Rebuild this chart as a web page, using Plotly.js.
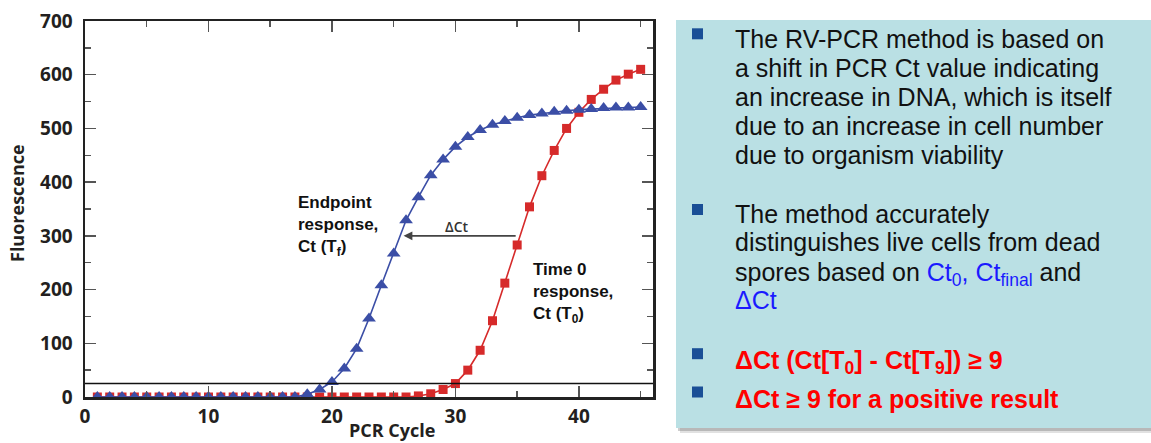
<!DOCTYPE html>
<html>
<head>
<meta charset="utf-8">
<script src="https://cdn.plot.ly/plotly-3.0.1.min.js"></script>
<style>html,body{margin:0;padding:0;background:#fff;}#chart{width:1151px;height:443px;}</style>
</head>
<body>
<div id="chart"></div>
<script>
// ---- data ----
const cycles = [1,2,3,4,5,6,7,8,9,10,11,12,13,14,15,16,17,18,19,20,21,22,23,24,25,26,27,28,29,30,31,32,33,34,35,36,37,38,39,40,41,42,43,44,45];
const endpointFluor = [0,0,0,0,0,0,0,0,0,0,0,0,0,0,0,0,0,5,14,28,53,90,146,208,267,329,372,413,442,466,484,497,507,514,520,525,528,531,533,535,536,538,539,539,540];
const time0Fluor = [0,0,0,0,0,0,0,0,0,0,0,0,0,0,0,0,0,0,0,0,0,0,0,0,0,0,2,6,14,25,50,87,142,212,283,354,412,459,500,530,554,573,590,601,610];
const threshold = 25;
const xTickVals = [0,10,20,30,40];
const xMinorVals = [5,15,25,35,45];
const yTickVals = [0,100,200,300,400,500,600,700];
const yMinorVals = [50,150,250,350,450,550,650];
const deltaFrom = 35, deltaTo = 25.8, deltaLevel = 300;
const xTitle = "PCR Cycle";
const yTitle = "Fluorescence";
const endpointLabel = "Endpoint<br>response,<br>Ct (T<sub>f</sub>)";
const time0Label = "Time 0<br>response,<br>Ct (T<sub>0</sub>)";
const deltaLabel = "\u0394Ct";
const para1 = ["The RV-PCR method is based on","a shift in PCR Ct value indicating","an increase in DNA, which is itself","due to an increase in cell number","due to organism viability"];
const para2 = ["The method accurately","distinguishes live cells from dead","spores based on <span style=\"color:#1a1aff\">Ct<sub>0</sub>, Ct<sub>final</sub></span> and","<span style=\"color:#1a1aff\">\u0394Ct</span>"];
const redLines = ["\u0394Ct (Ct[T<sub>0</sub>] - Ct[T<sub>9</sub>]) \u2265 9","\u0394Ct \u2265 9 for a positive result"];

// ---- layout geometry ----
const W=1151,H=443,ML=85,MR=498,MT=21,MB=46;
const PW=W-ML-MR, PH=H-MT-MB;
const px=(v)=>(v-ML)/PW;
const py=(v)=>(H-MB-v)/PH;

const tickFont={family:"Open Sans",size:19,color:"#231f20",weight:"bold"};
const titleFont={family:"Open Sans",size:18,color:"#231f20",weight:"bold"};

const traces=[
 {x:cycles,y:time0Fluor,type:"scatter",mode:"lines+markers",
  line:{color:"#d62a2a",width:1.6},marker:{symbol:"square",size:9,color:"#d62a2a"},hoverinfo:"skip"},
 {x:cycles,y:endpointFluor,type:"scatter",mode:"lines+markers",
  line:{color:"#3b4ea6",width:1.6},marker:{symbol:"triangle-up",size:12,color:"#3b4ea6"},hoverinfo:"skip"}
];

const shapes=[
 {type:"rect",xref:"paper",yref:"paper",x0:px(680),x1:px(1165),y0:py(433),y1:py(25),fillcolor:"rgba(90,90,90,0.18)",line:{width:0},layer:"above"},
 {type:"rect",xref:"paper",yref:"paper",x0:px(678),x1:px(1165),y0:py(431),y1:py(23),fillcolor:"rgba(90,90,90,0.30)",line:{width:0},layer:"above"},
 {type:"rect",xref:"paper",yref:"paper",x0:px(676),x1:px(1165),y0:py(428),y1:py(20),fillcolor:"#bae0e4",line:{width:0},layer:"above"},
 {type:"line",xref:"paper",yref:"y",x0:0,x1:1,y0:threshold,y1:threshold,line:{color:"#111",width:1.5}}
];
const bulletY=[33.8,209.5,353.7,392];
bulletY.forEach(c=>shapes.push({type:"rect",xref:"paper",yref:"paper",x0:px(692),x1:px(703),y0:py(c+5.5),y1:py(c-5.5),fillcolor:"#1a4f96",line:{width:0},layer:"above"}));

const annotations=[
 {xref:"paper",yref:"paper",x:px(391.5),y:py(430),text:xTitle,showarrow:false,xanchor:"center",yanchor:"middle",font:titleFont},
 {xref:"paper",yref:"paper",x:px(17),y:py(203),text:yTitle,showarrow:false,textangle:-90,xanchor:"center",yanchor:"middle",font:titleFont},
 {xref:"x",yref:"y",x:17.1,y:318,text:endpointLabel,showarrow:false,xanchor:"left",yanchor:"middle",align:"left",
  font:{family:"Liberation Sans",size:17,color:"#111",weight:"bold"}},
 {xref:"x",yref:"y",x:36.1,y:193,text:time0Label,showarrow:false,xanchor:"left",yanchor:"middle",align:"left",
  font:{family:"Liberation Sans",size:17,color:"#111",weight:"bold"}},
 {xref:"x",yref:"y",x:30.1,y:317,text:deltaLabel,showarrow:false,xanchor:"center",yanchor:"middle",
  font:{family:"Open Sans",size:14,color:"#333",weight:600}},
 {xref:"x",yref:"y",axref:"x",ayref:"y",x:deltaTo,y:deltaLevel,ax:deltaFrom,ay:deltaLevel,text:"",showarrow:true,
  arrowhead:2,arrowsize:1.1,arrowwidth:1.6,arrowcolor:"#444",standoff:0,startstandoff:0}
];
const bodyFont={family:"Liberation Sans",size:25,color:"#111"};
const redFont={family:"Liberation Sans",size:25,color:"#ff0000",weight:"bold"};
const base1=[47.7,76.7,105.7,134.3,163.3];
const base2=[222.7,250.7,279.3,308.3];
const base3=[367.7,405];
function addLine(t,b,font,hasSub){
  const c=b-0.3465*font.size+(hasSub?2.9:0);
  annotations.push({xref:"paper",yref:"paper",x:px(733),y:py(c),text:t,showarrow:false,xanchor:"left",yanchor:"middle",align:"left",font:font});
}
para1.forEach((t,i)=>addLine(t,base1[i],bodyFont,false));
para2.forEach((t,i)=>addLine(t,base2[i],bodyFont,t.indexOf("<sub>")>=0));
redLines.forEach((t,i)=>addLine(t,base3[i],redFont,true));

const layout={
 width:W,height:H,margin:{l:ML,r:MR,t:MT,b:MB,pad:0},
 paper_bgcolor:"#fff",plot_bgcolor:"#fff",showlegend:false,
 xaxis:{range:[0,46],tickvals:xTickVals,ticks:"inside",ticklen:11,tickwidth:1.5,tickcolor:"#555",
  minor:{tickvals:xMinorVals,ticks:"inside",ticklen:6,tickwidth:1.5,tickcolor:"#555",showgrid:false},
  showline:true,mirror:"ticks",linewidth:2.5,linecolor:"#222",showgrid:false,zeroline:false,
  tickfont:tickFont,ticklabelstandoff:1},
 yaxis:{range:[0,700],tickvals:yTickVals,ticks:"inside",ticklen:11,tickwidth:1.5,tickcolor:"#555",
  minor:{tickvals:yMinorVals,ticks:"inside",ticklen:6,tickwidth:1.5,tickcolor:"#555",showgrid:false},
  showline:true,mirror:"ticks",linewidth:2.5,linecolor:"#222",showgrid:false,zeroline:false,
  tickfont:tickFont,ticklabelstandoff:6},
 shapes:shapes,annotations:annotations
};
Plotly.newPlot("chart",traces,layout,{staticPlot:true,displayModeBar:false});
</script>
</body>
</html>
